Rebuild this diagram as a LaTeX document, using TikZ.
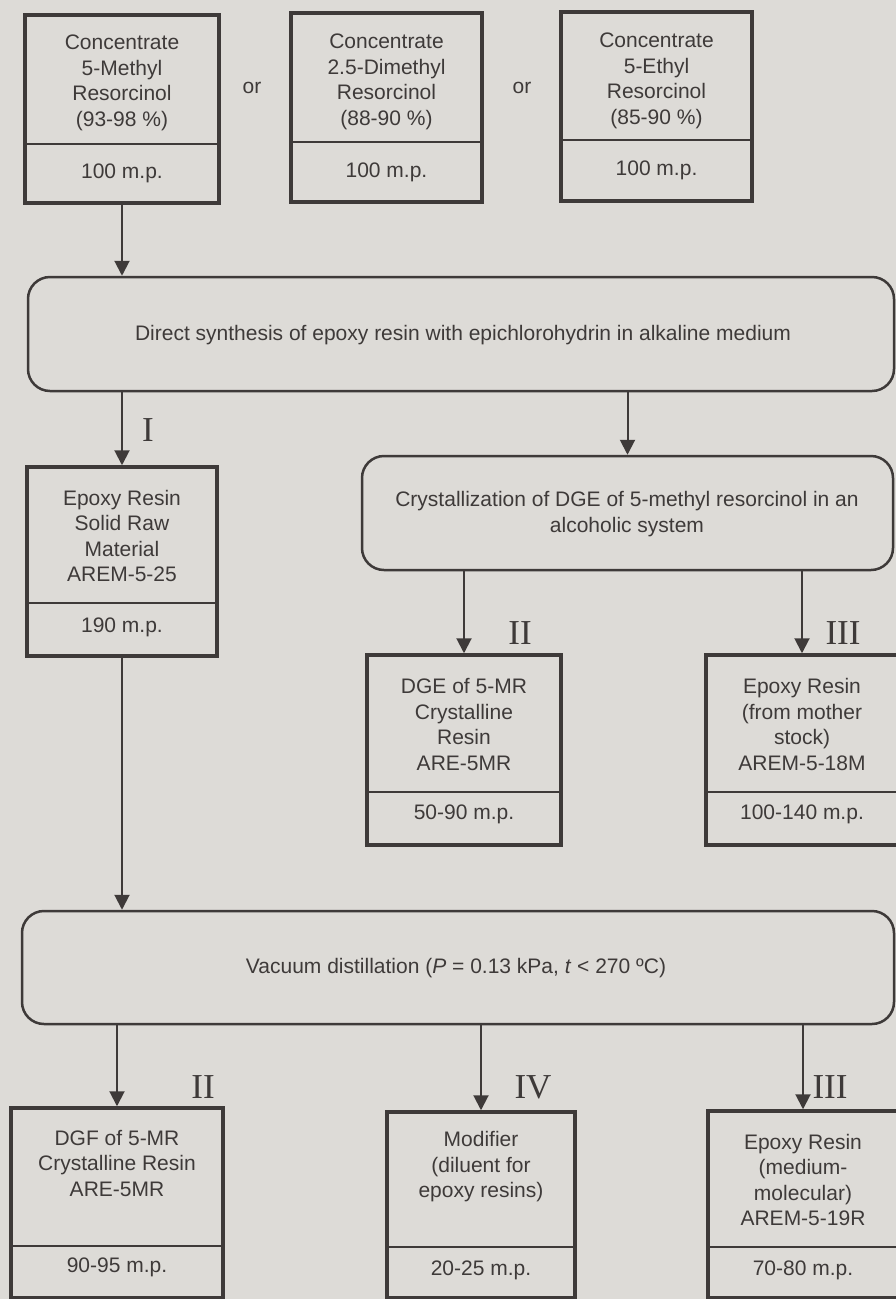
\documentclass[tikz,border=0pt]{standalone}
\usepackage{fontspec}
\setmainfont{Liberation Sans}
\newfontfamily\numfont{Liberation Serif}
\usepackage{tikz}
\usetikzlibrary{positioning,shapes,arrows.meta}
\definecolor{paper}{RGB}{221,219,215}
\definecolor{ink}{RGB}{62,58,57}

\begin{document}
\begin{tikzpicture}[x=1pt,y=-1pt,
  databox/.style = {draw=ink, line width=3.5pt, inner sep=0pt},
  procbox/.style = {draw=ink, line width=2.5pt, rounded corners=22pt, inner sep=0pt},
  divline/.style = {draw=ink, line width=2.5pt},
  conn/.style = {draw=ink, line width=2pt, -{Triangle[width=15pt,length=15pt]}},
  txt/.style = {text=ink, align=center, inner sep=0pt, font=\fontsize{21}{25.5}\selectfont},
  numlbl/.style = {text=ink, inner sep=0pt, font=\fontsize{35}{35}\numfont}]
\useasboundingbox (0,0) rectangle (896,1299);
\fill[paper] (0,0) rectangle (896,1299);
\clip (0,0) rectangle (896,1299);

% starting concentrates
\node[databox, minimum width=194pt, minimum height=188pt] (cmr) at (122,109) {};
\node[databox, minimum width=191pt, minimum height=189pt] (dmr) at (386.5,107.5) {};
\node[databox, minimum width=191pt, minimum height=189pt] (emr) at (656.5,106.5) {};
\draw[divline] (25,144) -- (219,144);
\draw[divline] (291,142) -- (482,142);
\draw[divline] (561,140) -- (752,140);
\node[txt] (cmrtxt) at (122,83) {Concentrate\\5-Methyl\\Resorcinol\\(93-98 \%)};
\node[txt] (cmrmp) at (122,173) {100 m.p.};
\node[txt] (dmrtxt) at (386.5,82) {Concentrate\\2.5-Dimethyl\\Resorcinol\\(88-90 \%)};
\node[txt] (dmrmp) at (386.5,172) {100 m.p.};
\node[txt] (emrtxt) at (656.5,81) {Concentrate\\5-Ethyl\\Resorcinol\\(85-90 \%)};
\node[txt] (emrmp) at (656.5,170) {100 m.p.};
\node[txt] (or1) at (252,88) {or};
\node[txt] (or2) at (522,88) {or};

% synthesis
\node[procbox, minimum width=866pt, minimum height=114pt] (synth) at (461,334) {};
\node[txt] (synthtxt) at (463,335) {Direct synthesis of epoxy resin with epichlorohydrin in alkaline medium};
\draw[conn] (cmr) -- (cmr |- synth.north);

% route I
\node[databox, minimum width=190pt, minimum height=189pt] (arem25) at (122,561.5) {};
\draw[divline] (27,603) -- (217,603);
\node[txt] (arem25txt) at (122,536) {Epoxy Resin\\Solid Raw\\Material\\AREM-5-25};
\node[txt] (arem25mp) at (122,627) {190 m.p.};
\draw[conn] (synth.south -| arem25) -- (arem25);
\node[numlbl] (lblI) at (148,430) {I};

% crystallization
\node[procbox, minimum width=531pt, minimum height=114pt] (cryst) at (627.5,513) {};
\node[txt] (crysttxt) at (627,514) {Crystallization of DGE of 5-methyl resorcinol in an\\alcoholic system};
\draw[conn] (synth.south -| cryst) -- (cryst);

\node[databox, minimum width=194pt, minimum height=190pt] (are5mr) at (464,750) {};
\draw[divline] (367,792) -- (561,792);
\node[txt] (are5mrtxt) at (464,724.5) {DGE of 5-MR\\Crystalline\\Resin\\ARE-5MR};
\node[txt] (are5mrmp) at (464,814) {50-90 m.p.};
\node[databox, minimum width=192pt, minimum height=190pt] (arem18m) at (802,750) {};
\draw[divline] (706,792) -- (898,792);
\node[txt] (arem18mtxt) at (802,724.5) {Epoxy Resin\\(from mother\\stock)\\AREM-5-18M};
\node[txt] (arem18mmp) at (802,814) {100-140 m.p.};
\draw[conn] (cryst.south -| are5mr) -- (are5mr);
\draw[conn] (cryst.south -| arem18m) -- (arem18m);
\node[numlbl] (lblIIa) at (520,633) {II};
\node[numlbl] (lblIIIa) at (843,633) {III};

% vacuum distillation
\node[procbox, minimum width=872pt, minimum height=113pt] (vacdist) at (458,967.5) {};
\node[txt] (vacdisttxt) at (456,968) {Vacuum distillation (\textit{P} = 0.13 kPa, \textit{t} < 270 ºC)};
\draw[conn] (arem25) -- (arem25 |- vacdist.north);

\node[databox, minimum width=212pt, minimum height=190pt] (dgf) at (117,1203) {};
\draw[divline] (11,1246) -- (223,1246);
\node[txt] (dgftxt) at (117,1163) {DGF of 5-MR\\Crystalline Resin\\ARE-5MR};
\node[txt] (dgfmp) at (117,1267) {90-95 m.p.};
\node[databox, minimum width=188pt, minimum height=186pt] (modif) at (481,1205) {};
\draw[divline] (387,1247) -- (575,1247);
\node[txt] (modiftxt) at (481,1167) {Modifier\\(diluent for\\epoxy resins)};
\node[txt] (modifmp) at (481,1270) {20-25 m.p.};
\node[databox, minimum width=190pt, minimum height=187pt] (arem19r) at (803,1204.5) {};
\draw[divline] (708,1247) -- (898,1247);
\node[txt] (arem19rtxt) at (803,1180) {Epoxy Resin\\(medium-\\molecular)\\AREM-5-19R};
\node[txt] (arem19rmp) at (803,1270) {70-80 m.p.};
\draw[conn] (vacdist.south -| dgf) -- (dgf);
\draw[conn] (vacdist.south -| modif) -- (modif);
\draw[conn] (vacdist.south -| arem19r) -- (arem19r);
\node[numlbl] (lblIIb) at (203,1087) {II};
\node[numlbl] (lblIV) at (533,1087) {IV};
\node[numlbl] (lblIIIb) at (830,1087) {III};
\end{tikzpicture}
\end{document}
